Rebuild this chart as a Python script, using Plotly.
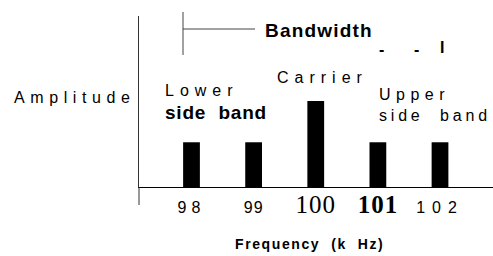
import plotly.graph_objects as go

# ---- data ----
frequencies = [98, 99, 100, 101, 102]          # kHz
amplitudes = [0.52, 0.52, 1.0, 0.52, 0.52]     # relative amplitude
tick_labels = [
    '<span style="letter-spacing:5px">98</span>',
    '<span style="letter-spacing:1px">99</span>',
    '<span style="font-family:Liberation Serif;font-size:25px;letter-spacing:1px">100</span>',
    '<span style="font-family:Liberation Serif;font-size:25px;font-weight:bold;letter-spacing:1px">101</span>',
    '<span style="letter-spacing:7px">102</span>',
]

W, H = 493, 256
L, R, T, B = 139, 0, 16, 69
PW, PH = W - L - R, H - T - B


def px(x):
    return (x - L) / PW


def py(y):
    return (T + PH - y) / PH


SANS = "Liberation Sans, Arial, sans-serif"

fig = go.Figure(
    go.Bar(x=frequencies, y=amplitudes, width=0.27,
           marker=dict(color="black", line=dict(width=0)))
)

ann = []


def add_text(text, x, y, size, bold=False, spacing=0, xanchor="left"):
    t = text
    if spacing:
        t = f'<span style="letter-spacing:{spacing}px">{t}</span>'
    if bold:
        t = f"<b>{t}</b>"
    ann.append(dict(text=t, x=px(x), y=py(y), xref="paper", yref="paper",
                    xanchor=xanchor, yanchor="middle", showarrow=False,
                    font=dict(family=SANS, size=size, color="black")))


add_text("Amplitude", 12, 97, 16, spacing=5.6)
add_text("Lower", 163, 90, 16, spacing=6)
add_text("side  band", 163, 112, 19, bold=True, spacing=0.8)
add_text("Carrier", 275, 77, 16, spacing=6)
add_text("Upper", 377, 94, 16, spacing=5.5)
add_text("side  band", 377, 115, 16, spacing=3.8)
add_text("Bandwidth", 263, 30, 19, bold=True, spacing=1.2)
add_text("-", 381, 49, 16, bold=True, xanchor="center")
add_text("-", 416, 49, 16, bold=True, xanchor="center")
add_text("I", 442, 47, 16, bold=True, xanchor="center")
add_text("Frequency  (k  Hz)", 309, 244, 14, bold=True, spacing=1.6, xanchor="center")

shapes = [
    # y axis extension below the baseline
    dict(type="line", xref="paper", yref="paper", x0=0, x1=0, y0=0, y1=py(205),
         line=dict(color="#333", width=1)),
    # bandwidth bracket
    dict(type="line", xref="paper", yref="paper", x0=px(183), x1=px(183),
         y0=py(12), y1=py(55), line=dict(color="#444", width=1)),
    dict(type="line", xref="paper", yref="paper", x0=px(183), x1=px(255),
         y0=py(29), y1=py(29), line=dict(color="#444", width=1)),
]

fig.update_layout(
    width=W, height=H,
    margin=dict(l=L, r=R, t=T, b=B, pad=0),
    paper_bgcolor="white", plot_bgcolor="white",
    showlegend=False,
    annotations=ann, shapes=shapes,
    xaxis=dict(range=[97.155, 102.853], tickvals=frequencies, ticktext=tick_labels,
               showgrid=False, zeroline=False, showline=True, linecolor="black",
               linewidth=1, ticks="outside", ticklen=6, tickcolor="rgba(0,0,0,0)",
               tickfont=dict(family=SANS, size=16, color="black")),
    yaxis=dict(range=[0, 1.988], showgrid=False, zeroline=False, showline=True,
               linecolor="#333", linewidth=1, showticklabels=False, ticks=""),
)

fig.write_html("out.html", config={"displayModeBar": False},
               post_script="document.body.style.margin='0';")
